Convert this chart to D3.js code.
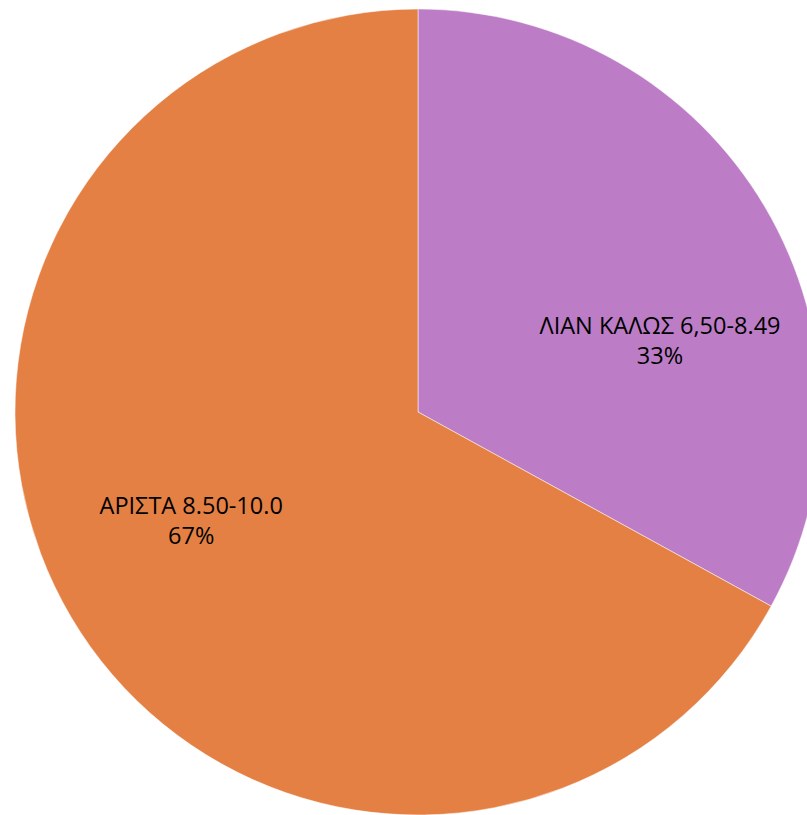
<!DOCTYPE html>
<html>
<head>
<meta charset="utf-8">
<style>
    body {margin: 0; background: #fff;}
    text {font-family: "Open Sans", sans-serif; fill: #000;}
</style>
<script src="https://d3js.org/d3.v7.min.js"></script>
</head>
<body>
<script>

    var categories = ["ΛΙΑΝ ΚΑΛΩΣ 6,50-8.49", "ΑΡΙΣΤΑ 8.50-10.0"],
        values = [33, 67],
        percentLabels = ["33%", "67%"],
        colors = ["#bc7dc6", "#e48044"];

    var width = 807,
        height = 815,
        cx = 418,
        cy = 412,
        radius = 403;

    var svg = d3.select("body").append("svg")
        .attr("width", width)
        .attr("height", height)
        .append("g")
        .attr("transform", "translate(" + cx + "," + cy + ")");

    var pie = d3.pie().sort(null).value(function (d) { return d; });
    var arcs = pie(values);

    var arc = d3.arc().innerRadius(0).outerRadius(radius);

    svg.selectAll("path")
        .data(arcs)
        .enter().append("path")
        .attr("d", arc)
        .attr("fill", function (d, i) { return colors[i] })
        .attr("stroke", "#fff")
        .attr("stroke-opacity", 0.5)
        .attr("stroke-width", 1);

    // excel "best fit" pushes the labels a bit round from the slice middle
    var nudge = [0.253, 0.084];

    var labels = svg.selectAll("g.label")
        .data(arcs)
        .enter().append("g")
        .attr("class", "label")
        .attr("transform", function (d, i) {
            var a = (d.startAngle + d.endAngle) / 2 + nudge[i],
                r = radius * 0.625;
            return "translate(" + (Math.sin(a) * r) + "," + (-Math.cos(a) * r) + ")";
        });

    labels.append("text")
        .attr("text-anchor", "middle")
        .attr("y", -8)
        .style("font-size", "23.5px")
        .text(function (d, i) { return categories[i] });

    labels.append("text")
        .attr("text-anchor", "middle")
        .attr("y", 22)
        .style("font-size", "23.5px")
        .text(function (d, i) { return percentLabels[i] });

</script>
</body>
</html>
